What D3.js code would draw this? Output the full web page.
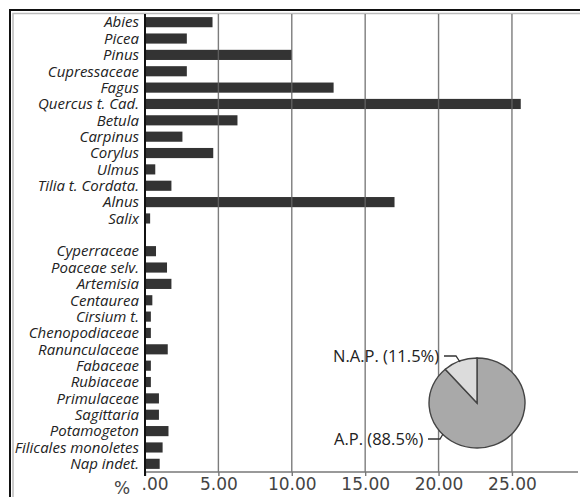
<!DOCTYPE html>
<html><head><meta charset="utf-8">
<script src="https://cdn.jsdelivr.net/npm/d3@7/dist/d3.min.js"></script>
<style>body{margin:0;background:#fff}svg{display:block}</style>
</head><body><svg id="c" width="580" height="497"></svg>
<script>
const categories = ["Abies","Picea","Pinus","Cupressaceae","Fagus","Quercus t. Cad.","Betula","Carpinus","Corylus","Ulmus","Tilia t. Cordata.","Alnus","Salix","",
 "Cyperraceae","Poaceae selv.","Artemisia","Centaurea","Cirsium t.","Chenopodiaceae","Ranunculaceae","Fabaceae","Rubiaceae","Primulaceae","Sagittaria","Potamogeton","Filicales monoletes","Nap indet."];
const values = [4.6,2.85,10.0,2.85,12.85,25.6,6.3,2.55,4.65,0.7,1.8,17.0,0.35,null,
 0.75,1.5,1.8,0.5,0.4,0.4,1.55,0.4,0.4,0.95,0.95,1.6,1.2,1.0];
const ticks = [0,5,10,15,20,25];
const tickLabels = [".00","5.00","10.00","15.00","20.00","25.00"];
const pieLabels = ["A.P. (88.5%)","N.A.P. (11.5%)"];
const pieValues = [88.5,11.5];

const svg = d3.select("#c");
const x = d3.scaleLinear().domain([0,29.5]).range([145,578]);
const y = d3.scaleBand().domain(d3.range(categories.length)).range([14,472]).paddingInner(0.38).paddingOuter(0.19);

// frame
svg.append("path").attr("d","M10,497V10H580").attr("fill","none").attr("stroke","#111").attr("stroke-width",2);
svg.append("path").attr("d","M13,497V13.5H580").attr("fill","none").attr("stroke","#bbb").attr("stroke-width",1.5);

// bars
svg.append("g").selectAll("rect").data(values.map((v,i)=>({v,i})).filter(d=>d.v!=null)).join("rect")
 .attr("x",x(0)).attr("y",d=>y(d.i)).attr("width",d=>x(d.v)-x(0)).attr("height",y.bandwidth()).attr("fill","#333");

// gridlines
svg.append("g").selectAll("line").data(ticks.slice(1)).join("line")
 .attr("x1",d=>x(d)).attr("x2",d=>x(d)).attr("y1",14).attr("y2",472)
 .attr("stroke","#666").attr("stroke-width",1.4).attr("opacity",0.85);

// bottom axis
const ax = svg.append("g").attr("transform","translate(0,472)")
 .call(d3.axisBottom(x).tickValues(ticks).tickFormat((d,i)=>tickLabels[i]).tickSize(4).tickPadding(2));
ax.select(".domain").attr("stroke","#777").attr("stroke-width",1.4).attr("d","M145,0H578");
ax.selectAll(".tick line").attr("stroke","#777").attr("stroke-width",1.4);
ax.selectAll(".tick text").attr("font-family","'DejaVu Sans', sans-serif").attr("font-size",17).attr("fill","#444");
ax.selectAll(".tick text").filter((d,i)=>i===0).attr("text-anchor","start").attr("x",-4);
svg.append("text").attr("x",122).attr("y",494).attr("text-anchor","middle")
 .attr("font-family","'DejaVu Sans', sans-serif").attr("font-size",17).attr("fill","#444").text("%");

// y axis line
svg.append("line").attr("x1",145).attr("x2",145).attr("y1",14).attr("y2",476).attr("stroke","#111").attr("stroke-width",2);

// category labels
svg.append("g").selectAll("text").data(categories.map((c,i)=>({c,i})).filter(d=>d.c)).join("text")
 .attr("x",139).attr("y",d=>y(d.i)+y.bandwidth()/2).attr("dy","0.35em").attr("text-anchor","end")
 .attr("font-family","'Open Sans', sans-serif").attr("font-style","italic").attr("font-size",15).attr("fill","#222")
 .text(d=>d.c);

// pie (N.A.P. sits just left of 12 o'clock)
const cx=477, cy=403, rx=48, ry=45;
const arcs = d3.pie().sort(null).startAngle(0).endAngle(2*Math.PI)(pieValues);
const arc = d3.arc().innerRadius(0).outerRadius(1);
const pg = svg.append("g").attr("transform",`translate(${cx},${cy}) scale(${rx},${ry})`);
pg.selectAll("path").data(arcs).join("path")
 .attr("d",arc)
 .attr("fill",(d,i)=>i===0?"#a9a9a9":"#dcdcdc").attr("stroke","#444").attr("stroke-width",1.4).attr("vector-effect","non-scaling-stroke");

// pie labels
const lf = "'Open Sans', sans-serif";
svg.append("text").attr("x",333).attr("y",356).attr("dy","0.35em").attr("font-family",lf).attr("font-size",16.5).attr("fill","#222").text(pieLabels[1]);
svg.append("text").attr("x",334).attr("y",439).attr("dy","0.35em").attr("font-family",lf).attr("font-size",16.5).attr("fill","#222").text(pieLabels[0]);
svg.append("path").attr("d","M444,356H456L460,362").attr("fill","none").attr("stroke","#333").attr("stroke-width",1.3);
svg.append("path").attr("d","M428,439H440L443,434").attr("fill","none").attr("stroke","#333").attr("stroke-width",1.3);
</script></body></html>
